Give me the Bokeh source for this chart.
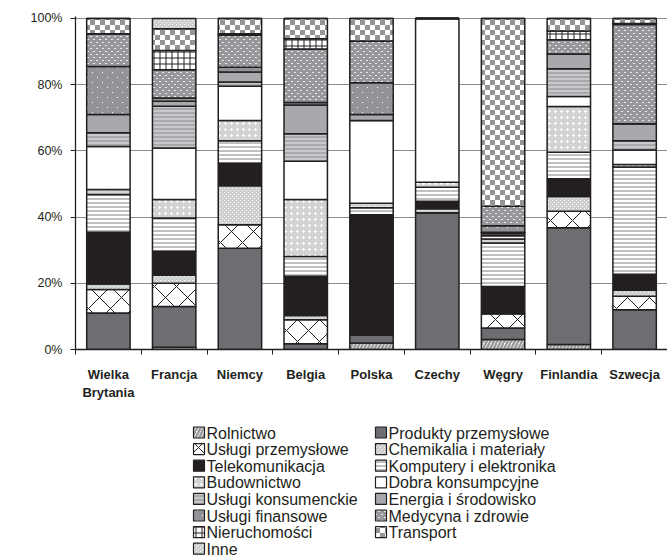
import zlib, struct, base64
from bokeh.plotting import figure
from bokeh.layouts import column
from bokeh.models import (ColumnDataSource, FixedTicker, PrintfTickFormatter,
                          ImageURLTexture, Range1d)
from bokeh.core.properties import value
from bokeh.embed import file_html
from bokeh.resources import INLINE

# ---------------- data ----------------
countries = ["Wielka Brytania", "Francja", "Niemcy", "Belgia", "Polska",
             "Czechy", "Węgry", "Finlandia", "Szwecja"]
tick_labels = ["Wielka\nBrytania", "Francja", "Niemcy", "Belgia", "Polska",
               "Czechy", "Węgry", "Finlandia", "Szwecja"]

series_names = ["Rolnictwo", "Produkty przemysłowe", "Usługi przemysłowe",
                "Chemikalia i materiały", "Telekomunikacja",
                "Komputery i elektronika", "Budownictwo", "Dobra konsumpcyjne",
                "Usługi konsumenckie", "Energia i środowisko", "Usługi finansowe",
                "Medycyna i zdrowie", "Nieruchomości", "Transport", "Inne"]

rolnictwo   = [0.0, 0.7, 0.0, 0.0, 2.0, 0.0, 3.0, 1.5, 0.0]
produkty    = [11.0, 12.3, 30.6, 1.7, 2.3, 41.3, 3.5, 35.3, 12.0]
uslugi_prz  = [7.1, 7.0, 7.1, 7.3, 0.0, 0.0, 4.3, 5.0, 4.1]
chemikalia  = [1.7, 2.4, 11.8, 1.3, 0.0, 1.2, 0.0, 4.4, 1.8]
telekom     = [15.6, 7.3, 6.8, 11.8, 36.4, 2.3, 8.2, 5.4, 4.8]
komputery   = [11.4, 10.0, 6.8, 6.0, 2.1, 4.2, 13.2, 8.0, 32.4]
budownictwo = [1.5, 5.6, 6.1, 17.2, 1.4, 1.5, 1.2, 13.8, 0.8]
dobra       = [13.0, 15.6, 10.3, 11.6, 25.0, 49.5, 1.0, 3.0, 4.4]
uslugi_kon  = [4.2, 12.6, 1.3, 8.3, 0.0, 0.0, 0.6, 8.4, 2.8]
energia     = [5.5, 1.5, 3.0, 8.7, 1.8, 0.0, 0.4, 4.5, 5.1]
uslugi_fin  = [14.5, 1.0, 1.5, 0.7, 9.6, 0.0, 2.0, 0.0, 0.0]
medycyna    = [9.9, 8.5, 9.6, 16.2, 12.6, 0.0, 5.9, 4.3, 30.0]
nieruch     = [0.0, 5.8, 0.5, 3.1, 0.0, 0.0, 0.0, 2.6, 0.3]
transport   = [4.6, 6.6, 4.6, 6.1, 6.8, 0.0, 56.7, 3.8, 1.5]
inne        = [0.0, 3.1, 0.0, 0.0, 0.0, 0.0, 0.0, 0.0, 0.0]

series_values = [rolnictwo, produkty, uslugi_prz, chemikalia, telekom, komputery,
                 budownictwo, dobra, uslugi_kon, energia, uslugi_fin, medycyna,
                 nieruch, transport, inne]

y_ticks = [0, 20, 40, 60, 80, 100]

# ---------------- pattern tiles (PNG data URLs) ----------------
def png_url(rows):
    h, w = len(rows), len(rows[0])
    raw = b"".join(b"\x00" + bytes([c for px in row for c in px]) for row in rows)
    def chunk(t, d):
        return (struct.pack(">I", len(d)) + t + d +
                struct.pack(">I", zlib.crc32(t + d) & 0xFFFFFFFF))
    png = (b"\x89PNG\r\n\x1a\n" +
           chunk(b"IHDR", struct.pack(">IIBBBBB", w, h, 8, 2, 0, 0, 0)) +
           chunk(b"IDAT", zlib.compress(raw)) + chunk(b"IEND", b""))
    return "data:image/png;base64," + base64.b64encode(png).decode()

def tile(size, bg, fg, pts):
    rows = [[bg] * size for _ in range(size)]
    for (cx, cy) in pts:
        rows[cy][cx] = fg
    return png_url(rows)

WHITE = (255, 255, 255)
checker_pts = [(cx, cy) for cx in range(10) for cy in range(10) if (cx < 5) == (cy < 5)]
tex = {
    "checker": ImageURLTexture(url=tile(10, WHITE, (147, 149, 152), checker_pts)),
    "finedots": ImageURLTexture(url=tile(4, (205, 206, 208), WHITE, [(0, 0), (2, 2)])),
    "medic": ImageURLTexture(url=tile(6, (150, 152, 155), (236, 236, 236),
                                      [(0, 0), (1, 0), (3, 3), (4, 3)])),
    "finance": ImageURLTexture(url=tile(10, (146, 148, 151), WHITE, [(2, 2), (7, 7)])),
    "plusdots": ImageURLTexture(url=tile(6, (210, 211, 213), WHITE,
                                         [(3, 2), (2, 3), (3, 3), (4, 3), (3, 4)])),
}

def pat(name):
    return value(name) if name in tex else name

#            fill,     pattern,    hatch color, scale, weight
styles = [
    ("white",   "/",        "#9a9b9d", 7,  2.5),   # Rolnictwo
    ("#6d6e71", " ",        "#000000", 6,  1.0),   # Produkty
    ("white",   "x",        "#231f20", 22, 1.0),   # Usługi przemysłowe
    ("#d0d1d3", "finedots", "white",   4,  1.0),   # Chemikalia
    ("#231f20", " ",        "#000000", 6,  1.0),   # Telekomunikacja
    ("white",   "-",        "#aeb0b2", 4,  1.6),   # Komputery
    ("#d4d5d7", "plusdots", "white",   6,  1.0),   # Budownictwo
    ("white",   " ",        "#000000", 6,  1.0),   # Dobra
    ("#a7a9ac", "-",        "#d8d9da", 4,  1.3),   # Usługi konsumenckie
    ("#a7a9ac", " ",        "#000000", 6,  1.0),   # Energia
    ("#929497", "finance",  "white",   10, 1.0),   # Usługi finansowe
    ("#9c9ea1", "medic",    "white",   6,  1.0),   # Medycyna
    ("white",   "+",        "#231f20", 6,  1.0),   # Nieruchomości
    ("white",   "checker",  "#939598", 10, 1.0),   # Transport
    ("#d0d1d3", "finedots", "white",   4,  1.0),   # Inne
]

x = [i + 0.5 for i in range(len(countries))]
data = {"x": x}
keys = []
for i, vals in enumerate(series_values):
    k = f"s{i}"
    data[k] = vals
    keys.append(k)
source = ColumnDataSource(data)

# ---------------- chart ----------------
p = figure(width=667, height=403, x_range=Range1d(0, 9), y_range=Range1d(0, 100.6),
           output_backend="svg", toolbar_location=None,
           min_border_left=75, min_border_right=0, min_border_top=16,
           min_border_bottom=54)
p.outline_line_color = None
p.background_fill_color = "white"
p.border_fill_color = "white"

p.vbar_stack(
    keys, x="x", width=0.66, source=source,
    fill_color=[s[0] for s in styles],
    hatch_pattern=[pat(s[1]) for s in styles],
    hatch_color=[s[2] for s in styles],
    hatch_scale=[s[3] for s in styles],
    hatch_weight=[s[4] for s in styles],
    hatch_extra=tex,
    line_color="#231f20", line_width=1.5,
)

p.xgrid.visible = False
p.ygrid.ticker = FixedTicker(ticks=y_ticks)
p.ygrid.grid_line_color = "#8a8a8a"
p.ygrid.grid_line_width = 1.2

ya = p.yaxis[0]
ya.ticker = FixedTicker(ticks=y_ticks)
ya.formatter = PrintfTickFormatter(format="%d%%")
ya.axis_line_color = "#231f20"
ya.axis_line_width = 1.3
ya.major_tick_line_color = "#231f20"
ya.major_tick_out = 5
ya.major_tick_in = 0
ya.minor_tick_line_color = None
ya.major_label_text_font = "Liberation Sans"
ya.major_label_text_font_size = "12.5px"
ya.major_label_text_color = "#231f20"
ya.major_label_standoff = 8

xa = p.xaxis[0]
xa.ticker = FixedTicker(ticks=x, minor_ticks=list(range(len(countries) + 1)))
xa.major_label_overrides = {v: lab for v, lab in zip(x, tick_labels)}
xa.axis_line_color = "#231f20"
xa.axis_line_width = 1.3
xa.major_tick_line_color = None
xa.major_tick_out = 0
xa.major_tick_in = 0
xa.minor_tick_line_color = "#231f20"
xa.minor_tick_out = 5
xa.minor_tick_in = 0
xa.major_label_text_font = "Liberation Sans"
xa.major_label_text_font_style = "bold"
xa.major_label_text_font_size = "13px"
xa.major_label_text_color = "#231f20"
xa.major_label_standoff = 12

# ---------------- legend panel (two columns, Excel row-wise order) ----------------
# frame of this panel is aligned with the chart frame (x from 75 to 667 px)
q = figure(width=667, height=157, x_range=Range1d(75, 667), y_range=Range1d(157, 0),
           output_backend="svg", toolbar_location=None,
           min_border_left=75, min_border_right=0, min_border_top=0,
           min_border_bottom=0)
q.axis.visible = False
q.grid.visible = False
q.outline_line_color = None
q.background_fill_color = "white"
q.border_fill_color = "white"

col1 = [0, 2, 4, 6, 8, 10, 12, 14]
col2 = [1, 3, 5, 7, 9, 11, 13]
col_left = [193, 375]
row_top, row_step, box = 29, 16.6, 11

lab_x, lab_y, lab_t = [], [], []
for cx, idxs in zip(col_left, [col1, col2]):
    for ri, si in enumerate(idxs):
        yy = row_top + ri * row_step
        fill, hp, hc, hs, hw = styles[si]
        q.rect(x=[cx + box / 2], y=[yy], width=box, height=box, fill_color=fill,
               hatch_pattern=pat(hp), hatch_color=hc, hatch_scale=hs, hatch_weight=hw,
               hatch_extra=tex, line_color="#231f20", line_width=1.2)
        lab_x.append(cx + box + 2)
        lab_y.append(yy + 0.5)
        lab_t.append(series_names[si])

q.text(x=lab_x, y=lab_y, text=lab_t, text_font=value("Liberation Sans"),
       text_font_size=value("16px"), text_color="#231f20",
       text_baseline="middle", text_align="left")

layout = column(p, q, spacing=0)
open("out.html", "w").write(file_html(layout, INLINE))
